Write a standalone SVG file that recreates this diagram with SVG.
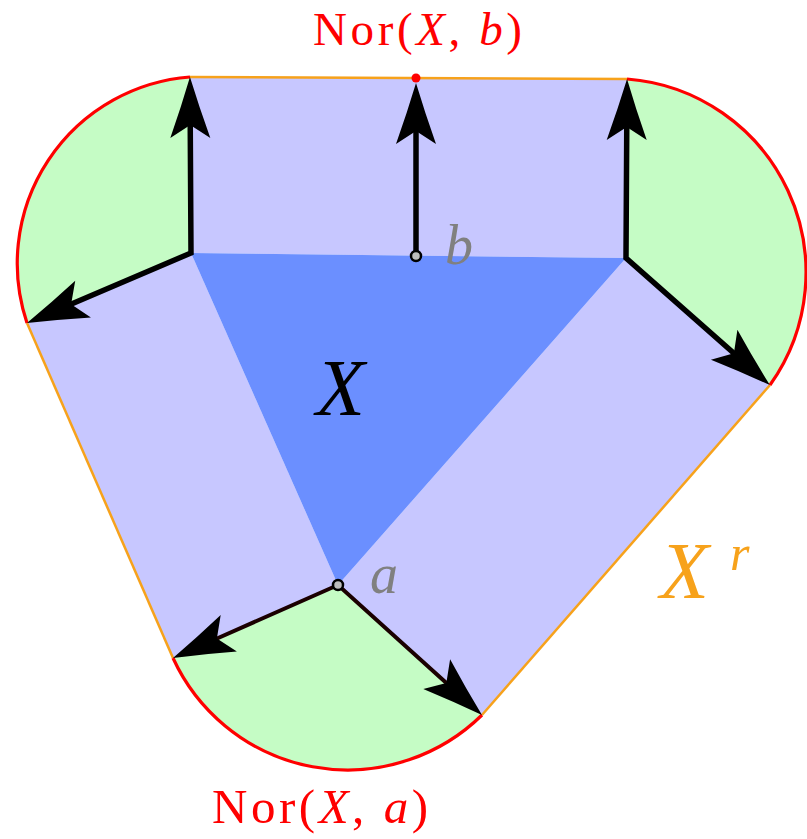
<svg xmlns="http://www.w3.org/2000/svg" width="807" height="839" viewBox="0 0 807 839">
<style>
.lav{fill:#c7c7ff;stroke:none}
.grn{fill:#c5fcc5;stroke:none}
.tri{fill:#6b8fff;stroke:none}
.edge{fill:none;stroke:#f7a21b;stroke-width:2.5}
.arc{fill:none;stroke:#ff0000;stroke-width:3.2}
.arr{fill:none;stroke:#000;stroke-width:5.5;stroke-linejoin:miter;marker-end:url(#head)}
.arr2{fill:none;stroke:#000;stroke-width:5.5;stroke-linejoin:miter;marker-start:url(#head);marker-end:url(#head)}
.arrA{fill:none;stroke:#1a0000;stroke-width:4;stroke-linejoin:miter;marker-start:url(#head);marker-end:url(#head)}
.pt{fill:#bdbdbd;stroke:#000;stroke-width:2.5}
.serif{font-family:"Liberation Serif","DejaVu Serif",serif}
.it{font-style:italic}
.red{fill:#ff0000}
.gray{fill:#808080}
</style>
<defs>
<marker id="head" viewBox="-24 -24 70 48" refX="0" refY="0" markerWidth="70" markerHeight="48" markerUnits="userSpaceOnUse" orient="auto-start-reverse" overflow="visible">
<path d="M42,0 Q12,-9 -19,-20 L-6,0 L-19,20 Q12,9 42,0 Z" fill="#000"/>
</marker>
</defs>
<g id="regions">
<g id="rect-top"><path class="lav" d="M190,77 L627,79 L626,258 L191,253 Z"/></g>
<g id="rect-left"><path class="lav" d="M191,253 L27,323 L173,658 L338,585 Z"/></g>
<g id="rect-right"><path class="lav" d="M626,258 L770,385 L482,715 L338,585 Z"/></g>
<g id="sector-left"><path class="grn" d="M191,253 L190,77 A187,187 0 0 0 27,323 Z"/></g>
<g id="sector-right"><path class="grn" d="M626,258 L627,79 A194,194 0 0 1 770,385 Z"/></g>
<g id="sector-a"><path class="grn" d="M338,585 L173,658 A192,192 0 0 0 482,715 Z"/></g>
<g id="X"><path class="tri" d="M191,253 L626,258 L338,585 Z"/></g>
</g>
<g id="outline">
<path class="edge" d="M190,77 L627,79"/>
<path class="edge" d="M27,323 L173,658"/>
<path class="edge" d="M770,385 L482,715"/>
<path class="arc" d="M190,77 A187,187 0 0 0 27,323"/>
<path class="arc" d="M627,79 A194,194 0 0 1 770,385"/>
<path class="arc" d="M173,658 A192,192 0 0 0 482,715"/>
</g>
<g id="connectors">
<polyline class="arr2" points="190.2,119 191,253 65.6,306.5"/>
<polyline class="arr2" points="626.8,121 626,258 738.4,357.3"/>
<line class="arr" x1="416" y1="256" x2="416" y2="125"/>
<polyline class="arrA" points="211.4,641 338,585 450.8,686.9"/>
</g>
<g id="points">
<circle class="pt" cx="416" cy="256" r="5"/>
<circle class="pt" cx="338" cy="585" r="5"/>
<circle cx="416" cy="78" r="4.5" fill="#ff0000"/>
</g>
<g id="labels" class="serif">
<text class="red" x="313" y="45" font-size="47" textLength="209" lengthAdjust="spacing">Nor(<tspan class="it">X</tspan>, <tspan class="it">b</tspan>)</text>
<text class="red" x="212" y="823" font-size="49" textLength="216" lengthAdjust="spacing">Nor(<tspan class="it">X</tspan>, <tspan class="it">a</tspan>)</text>
<text class="it" x="316" y="415" font-size="80" fill="#000">X</text>
<text class="it" x="660" y="598" font-size="80" fill="#f7a21b">X</text>
<text class="it" x="730" y="570" font-size="50" fill="#f7a21b">r</text>
<text class="it gray" x="370" y="593" font-size="56">a</text>
<text class="it gray" x="445" y="264" font-size="56">b</text>
</g>
</svg>
